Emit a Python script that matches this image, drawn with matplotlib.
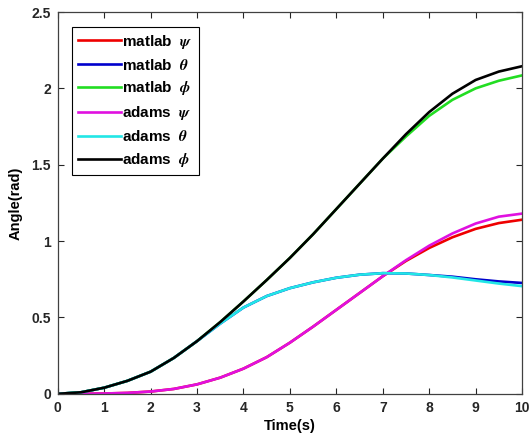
import matplotlib
matplotlib.use("Agg")
import matplotlib.pyplot as plt

# time axis (s)
t = [0, 0.5, 1, 1.5, 2, 2.5, 3, 3.5, 4, 4.5, 5, 5.5, 6, 6.5, 7, 7.5, 8, 8.5, 9, 9.5, 10]

# angles (rad)
matlab_psi = [0, 0, 0.002, 0.006, 0.015, 0.032, 0.062, 0.106, 0.165, 0.24, 0.335, 0.44,
              0.55, 0.66, 0.77, 0.87, 0.955, 1.025, 1.08, 1.118, 1.14]
matlab_theta = [0, 0.01, 0.04, 0.085, 0.145, 0.235, 0.345, 0.46, 0.565, 0.64, 0.692, 0.73,
                0.76, 0.78, 0.79, 0.788, 0.778, 0.767, 0.75, 0.736, 0.726]
matlab_phi = [0, 0.01, 0.04, 0.085, 0.145, 0.235, 0.345, 0.47, 0.605, 0.745, 0.89, 1.045,
              1.21, 1.375, 1.54, 1.685, 1.82, 1.925, 2.0, 2.05, 2.085]
adams_psi = [0, 0, 0.002, 0.006, 0.015, 0.032, 0.062, 0.106, 0.165, 0.24, 0.335, 0.44,
             0.55, 0.66, 0.77, 0.875, 0.97, 1.05, 1.115, 1.16, 1.18]
adams_theta = [0, 0.01, 0.04, 0.085, 0.145, 0.235, 0.345, 0.46, 0.565, 0.64, 0.692, 0.73,
               0.76, 0.78, 0.79, 0.788, 0.778, 0.762, 0.742, 0.722, 0.705]
adams_phi = [0, 0.01, 0.04, 0.085, 0.145, 0.235, 0.345, 0.47, 0.605, 0.745, 0.89, 1.045,
             1.21, 1.375, 1.54, 1.70, 1.845, 1.965, 2.055, 2.11, 2.145]

x_ticks = [0, 1, 2, 3, 4, 5, 6, 7, 8, 9, 10]
y_ticks = [0, 0.5, 1, 1.5, 2, 2.5]
y_ticklabels = ["0", "0.5", "1", "1.5", "2", "2.5"]

plt.rcParams["font.family"] = ["Liberation Sans", "DejaVu Sans"]
plt.rcParams["font.weight"] = "bold"
plt.rcParams["mathtext.fontset"] = "stix"

fig = plt.figure(figsize=(5.3, 4.45), dpi=100)
ax = fig.add_axes([0.109, 0.115, 0.876, 0.858])

lw = 1.9
ax.plot(t, matlab_psi, color="#ee0000", lw=lw, label=r"matlab  $\psi$")
ax.plot(t, matlab_theta, color="#0000cc", lw=lw, label=r"matlab  $\theta$")
ax.plot(t, matlab_phi, color="#22dd22", lw=lw, label=r"matlab  $\phi$")
ax.plot(t, adams_psi, color="#e010e0", lw=lw, label=r"adams  $\psi$")
ax.plot(t, adams_theta, color="#22e6e6", lw=lw, label=r"adams  $\theta$")
ax.plot(t, adams_phi, color="black", lw=lw, label=r"adams  $\phi$")

ax.set_xlim(0, 10)
ax.set_ylim(0, 2.5)
ax.set_xticks(x_ticks)
ax.set_yticks(y_ticks)
ax.set_yticklabels(y_ticklabels)
ax.tick_params(direction="in", top=True, right=True, length=4, width=0.8,
               colors="#262626", labelsize=10, pad=5)
for lab in ax.get_xticklabels() + ax.get_yticklabels():
    lab.set_fontweight("bold")
for sp in ax.spines.values():
    sp.set_color("#404040")
    sp.set_linewidth(0.9)

ax.set_xlabel("Time(s)", fontsize=10.5, fontweight="bold", labelpad=3)
ax.set_ylabel("Angle(rad)", fontsize=10.5, fontweight="bold", labelpad=6)

leg = ax.legend(loc="upper left", bbox_to_anchor=(0.03, 0.962), fontsize=11,
                handlelength=2.8, handletextpad=0.1, labelspacing=0.45,
                borderaxespad=0, fancybox=False, framealpha=1, borderpad=0.4)
leg.get_frame().set_edgecolor("black")
leg.get_frame().set_linewidth(0.8)
for text in leg.get_texts():
    text.set_fontweight("bold")

fig.savefig("out.png", dpi=100)
